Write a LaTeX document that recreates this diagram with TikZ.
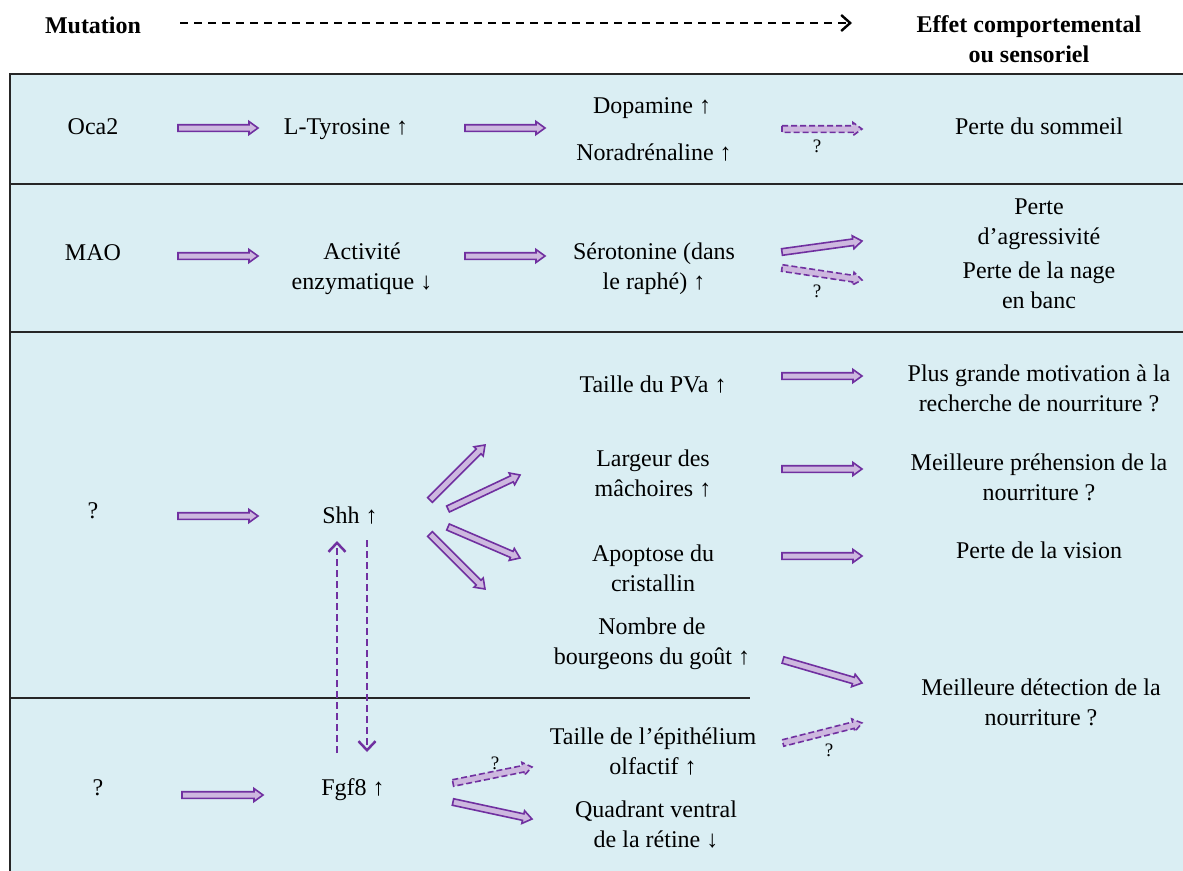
\documentclass[tikz,border=0pt]{standalone}
\usepackage{fontspec}
\setmainfont{Liberation Serif}
\usetikzlibrary{calc,arrows.meta}
\definecolor{bgblue}{HTML}{DAEEF3}
\definecolor{apurple}{HTML}{7030A0}
\definecolor{afill}{HTML}{CDB8DF}
\definecolor{frameline}{HTML}{262626}
\newcommand{\fsmain}{\fontsize{24}{29.5}\selectfont}
\newcommand{\fssmall}{\fontsize{19}{23}\selectfont}
\tikzset{
  txt/.style={font=\fsmain, align=center, inner sep=0pt, anchor=base},
  hdr/.style={txt, font=\fsmain\bfseries},
  qlab/.style={font=\fssmall, inner sep=0pt, anchor=base},
  sepline/.style={draw=frameline, line width=1.6pt},
  fatarrow/.style={draw=apurple, fill=afill, line width=1.6pt, line join=miter,
    to path={let \p1=(\tikztostart), \p2=(\tikztotarget),
      \n1={atan2(\y2-\y1,\x2-\x1)}, \n2={veclen(\x2-\x1,\y2-\y1)} in
      ($(\p1)+(\n1+90:3.3pt)$)
      -- ($(\p1)+(\n1:{\n2-9pt})+(\n1+90:3.3pt)$)
      -- ($(\p1)+(\n1:{\n2-9pt})+(\n1+90:6.5pt)$)
      -- (\p2)
      -- ($(\p1)+(\n1:{\n2-9pt})+(\n1-90:6.5pt)$)
      -- ($(\p1)+(\n1:{\n2-9pt})+(\n1-90:3.3pt)$)
      -- ($(\p1)+(\n1-90:3.3pt)$) -- cycle}},
  dfatarrow/.style={fatarrow, dash pattern=on 6pt off 3pt},
  vdash/.style={draw=apurple, line width=2.5pt, dash pattern=on 7pt off 4pt,
    -{Straight Barb[length=9pt,width=17pt]}},
  hdrarrow/.style={draw=black, line width=2.4pt, dash pattern=on 8pt off 6pt,
    -{Straight Barb[length=9pt,width=16pt]}}
}
\begin{document}
\begin{tikzpicture}[x=1pt,y=-1pt]
\useasboundingbox (0,0) rectangle (1183,870);
% background panel and separators
\path[fill=bgblue] (10,74) rectangle (1190,880);
\draw[sepline] (1190,74) -- (10,74) -- (10,880);
\draw[sepline] (10,184) -- (1190,184);
\draw[sepline] (10,332) -- (1190,332);
\draw[sepline] (10,698) -- (750,698);

% header
\node[hdr] (mut) at (93,33) {Mutation};
\node[hdr] (eff) at (1029,62) {Effet comportemental\\ou sensoriel};
\coordinate (h1) at (180,23);
\coordinate (h2) at (852,23);
\draw[hdrarrow] (h1) -- (h2);

% row 1
\node[txt] (oca) at (93,134) {Oca2};
\node[txt] (ltyr) at (346,134) {L-Tyrosine ↑};
\node[txt] (dopa) at (652,113) {Dopamine ↑};
\node[txt] (nora) at (654,160) {Noradrénaline ↑};
\node[txt] (sleep) at (1039,134) {Perte du sommeil};
\coordinate (a1s) at (178,128); \coordinate (a1e) at (258,128);
\coordinate (a2s) at (465,128); \coordinate (a2e) at (545,128);
\coordinate (a3s) at (782,129); \coordinate (a3e) at (862,129);
\draw[fatarrow] (a1s) to (a1e);
\draw[fatarrow] (a2s) to (a2e);
\draw[dfatarrow] (a3s) to (a3e);
\node[qlab] (q3) at (817,152) {?};

% row 2
\node[txt] (mao) at (93,260) {MAO};
\node[txt] (act) at (362,289) {Activité\\enzymatique ↓};
\node[txt] (sero) at (654,289) {Sérotonine (dans\\le raphé) ↑};
\node[txt] (aggr) at (1039,244) {Perte\\d’agressivité};
\node[txt] (nage) at (1039,308) {Perte de la nage\\en banc};
\coordinate (b1s) at (178,256); \coordinate (b1e) at (258,256);
\coordinate (b2s) at (465,256); \coordinate (b2e) at (545,256);
\coordinate (b3s) at (782,252); \coordinate (b3e) at (862,241);
\coordinate (b4s) at (782,268); \coordinate (b4e) at (862,280);
\draw[fatarrow] (b1s) to (b1e);
\draw[fatarrow] (b2s) to (b2e);
\draw[fatarrow] (b3s) to (b3e);
\draw[dfatarrow] (b4s) to (b4e);
\node[qlab] (q4) at (817,297) {?};

% row 3
\node[txt] (q1) at (93,518) {?};
\node[txt] (shh) at (350,523) {Shh ↑};
\node[txt] (pva) at (653,392) {Taille du PVa ↑};
\node[txt] (larg) at (653,496) {Largeur des\\mâchoires ↑};
\node[txt] (apop) at (653,591) {Apoptose du\\cristallin};
\node[txt] (bourg) at (652,664) {Nombre de\\bourgeons du goût ↑};
\node[txt] (motiv) at (1039,411) {Plus grande motivation à la\\recherche de nourriture ?};
\node[txt] (preh) at (1039,500) {Meilleure préhension de la\\nourriture ?};
\node[txt] (vision) at (1039,558) {Perte de la vision};
\node[txt] (detect) at (1041,725) {Meilleure détection de la\\nourriture ?};
\coordinate (c1s) at (178,516); \coordinate (c1e) at (258,516);
\coordinate (f1s) at (430,500); \coordinate (f1e) at (485,445);
\coordinate (f2s) at (448,509); \coordinate (f2e) at (520,475);
\coordinate (f3s) at (448,527); \coordinate (f3e) at (520,558);
\coordinate (f4s) at (430,534); \coordinate (f4e) at (485,589);
\coordinate (r1s) at (782,376); \coordinate (r1e) at (862,376);
\coordinate (r2s) at (782,469); \coordinate (r2e) at (862,469);
\coordinate (r3s) at (782,556); \coordinate (r3e) at (862,556);
\coordinate (r4s) at (783,660); \coordinate (r4e) at (862,683);
\coordinate (r5s) at (783,743); \coordinate (r5e) at (862,723);
\draw[fatarrow] (c1s) to (c1e);
\draw[fatarrow] (f1s) to (f1e);
\draw[fatarrow] (f2s) to (f2e);
\draw[fatarrow] (f3s) to (f3e);
\draw[fatarrow] (f4s) to (f4e);
\draw[fatarrow] (r1s) to (r1e);
\draw[fatarrow] (r2s) to (r2e);
\draw[fatarrow] (r3s) to (r3e);
\draw[fatarrow] (r4s) to (r4e);
\draw[dfatarrow] (r5s) to (r5e);
\node[qlab] (q5) at (829,756) {?};

% row 4
\node[txt] (q2) at (98,795) {?};
\node[txt] (fgf) at (353,795) {Fgf8 ↑};
\node[txt] (olf) at (653,774) {Taille de l’épithélium\\olfactif ↑};
\node[txt] (quad) at (656,847) {Quadrant ventral\\de la rétine ↓};
\coordinate (d1s) at (182,795); \coordinate (d1e) at (263,795);
\coordinate (d2s) at (453,783); \coordinate (d2e) at (532,767);
\coordinate (d3s) at (453,802); \coordinate (d3e) at (532,819);
\draw[fatarrow] (d1s) to (d1e);
\draw[dfatarrow] (d2s) to (d2e);
\draw[fatarrow] (d3s) to (d3e);
\node[qlab] (q6) at (495,769) {?};

% Shh <-> Fgf8 dashed arrows
\coordinate (u1) at (337,753); \coordinate (u2) at (337,541);
\coordinate (v1) at (367,540); \coordinate (v2) at (367,752);
\draw[vdash] (u1) -- (u2);
\draw[vdash] (v1) -- (v2);
\end{tikzpicture}
\end{document}
